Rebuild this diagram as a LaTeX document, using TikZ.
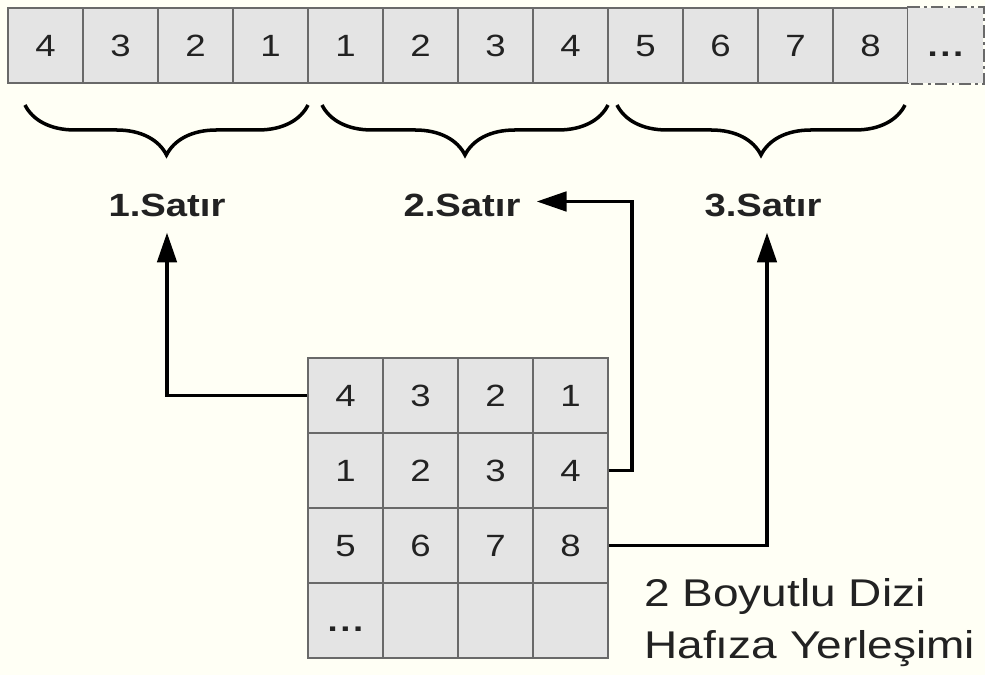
\documentclass[tikz,border=0pt]{standalone}
\usepackage{fontspec}
\setmainfont{Liberation Sans}[FakeStretch=1.19]
\usetikzlibrary{arrows.meta,decorations.pathreplacing}

\definecolor{paper}{RGB}{255,255,245}
\definecolor{cellfill}{RGB}{228,228,228}
\definecolor{cellline}{RGB}{105,105,105}
\definecolor{ink}{RGB}{34,34,34}

\newcommand{\more}{\textbf{.\kern1.5pt.\kern1.5pt.}}

\begin{document}
\begin{tikzpicture}[
        x=0.02cm, y=-0.02cm,
        cell/.style={draw=cellline, fill=cellfill, line width=0.9pt, minimum size=75*0.02cm,
            inner sep=0pt, text height=12pt, text depth=0pt, font=\fontsize{17.5}{20}\selectfont, text=ink},
        lastcell/.style={cell, draw=none},
        rowlabel/.style={font=\bfseries\fontsize{18.3}{20}\selectfont, text=ink, inner sep=2pt},
        link/.style={line width=2.2pt, -{Triangle[length=17pt,width=11pt]}},
        curly/.style={line width=2pt, decorate, decoration={brace, mirror, amplitude=1cm}}
    ]

    \fill[paper] (0,0) rectangle (985,675);
    \useasboundingbox (0,0) rectangle (985,675);

    % memory as one long row
    \foreach \v [count=\i] in {4,3,2,1,1,2,3,4,5,6,7,8}
        \node[cell] (t\i) at (45.5+75*\i-75, 45.5) {\v};
    \node[lastcell] (t13) at (945.5, 45.5) {\more};
    \draw[cellline, line width=1pt, dash pattern=on 7pt off 2.5pt on 1.5pt off 2.5pt]
        (t13.north west) -- (t13.north east) -- (t13.south east) -- (t13.south west);

    % braces grouping each row
    \draw[curly] (25,105) -- (308,105);
    \draw[curly] (322,105) -- (608,105);
    \draw[curly] (617,105) -- (905,105);

    \node[rowlabel] (lab1) at (167,205) {1.Satır};
    \node[rowlabel] (lab2) at (462,205) {2.Satır};
    \node[rowlabel] (lab3) at (763,205) {3.Satır};

    % the 2d array
    \foreach \row [count=\r] in {{4,3,2,1},{1,2,3,4},{5,6,7,8},{\more,{},{},{}}}
        \foreach \v [count=\c] in \row
            \node[cell] (g\r\c) at (345.5+75*\c-75, 395.5+75*\r-75) {\v};

    % rows to their place in memory
    \draw[link, shorten >=7pt] (g11.west) -| (lab1.south);
    \draw[link, shorten >=7pt] (g24.east) -- ++(23,0) |- ([yshift=2pt]lab2.east);
    \draw[link, shorten >=7pt] (g34.east) -| ([xshift=4*0.02cm]lab3.south);

    \node[anchor=north west, align=left, inner sep=0pt, text=ink,
        font=\fontsize{22}{29.5}\selectfont] (caption) at (644,578)
        {2 Boyutlu Dizi\\Hafıza Yerleşimi};

\end{tikzpicture}
\end{document}
